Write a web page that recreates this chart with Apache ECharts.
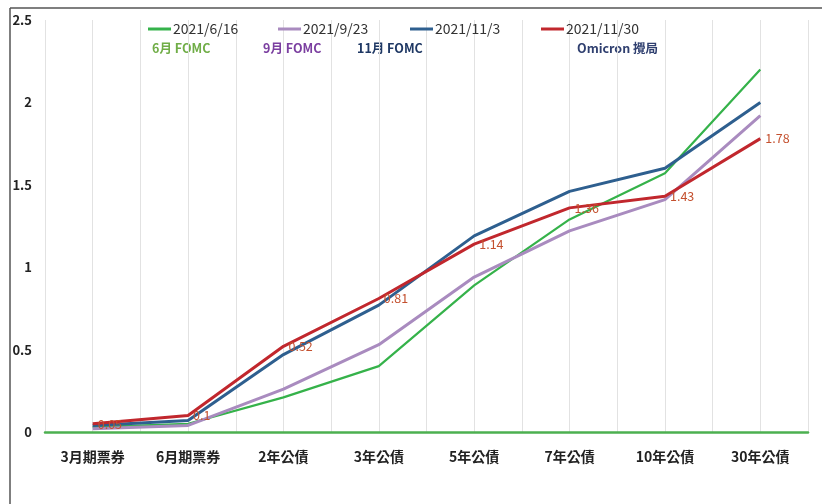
<!DOCTYPE html>
<html><head><meta charset="utf-8">
<script src="https://cdn.jsdelivr.net/npm/echarts@6/dist/echarts.min.js"></script>
<style>html,body{margin:0;padding:0;background:#fff}#c{width:824px;height:504px}</style>
</head><body><div id="c"></div>
<script>
const categories = ['3月期票券','6月期票券','2年公債','3年公債','5年公債','7年公債','10年公債','30年公債'];
const s0616 = [0.03, 0.05, 0.21, 0.40, 0.89, 1.29, 1.57, 2.20];
const s0923 = [0.02, 0.04, 0.26, 0.53, 0.94, 1.22, 1.41, 1.92];
const s1103 = [0.04, 0.07, 0.47, 0.77, 1.19, 1.46, 1.60, 2.00];
const s1130 = [0.05, 0.10, 0.52, 0.81, 1.14, 1.36, 1.43, 1.78];
const seriesNames = ['2021/6/16','2021/9/23','2021/11/3','2021/11/30'];
const yTicks = [0, 0.5, 1, 1.5, 2, 2.5];
const notes = ['6月 FOMC','9月 FOMC','11月 FOMC','Omicron 攪局'];

const FONT = '"Noto Sans CJK TC","Noto Sans",sans-serif';
const colors = ['#35b24a','#a98bbf','#2e5f8f','#c1272d'];
const widths = [2.2, 3, 3, 3];
const chart = echarts.init(document.getElementById('c'));
const datas = [s0616, s0923, s1103, s1130];
const legendLeft = [143, 273, 405, 536];
const noteLeft = [152, 263, 357, 577];
const noteColors = ['#70ad47','#7b3fa0','#1f3864','#2f3f6f'];

chart.setOption({
  animation: false,
  textStyle: {fontFamily: FONT},
  grid: {left: 45, right: 16, top: 20, bottom: 72},
  legend: seriesNames.map((n, i) => ({
    data: [n], left: legendLeft[i], top: 17, icon: 'rect', itemWidth: 23, itemHeight: 3,
    itemGap: 2, textStyle: {fontSize: 14, color: '#333', fontFamily: FONT, padding: [0,0,0,-3]}
  })),
  graphic: [
    {type: 'line', shape: {x1: 10, y1: 8, x2: 822, y2: 8}, style: {stroke: '#555', lineWidth: 1.5}, silent: true},
    {type: 'line', shape: {x1: 10, y1: 8, x2: 10, y2: 504}, style: {stroke: '#555', lineWidth: 1.5}, silent: true}
  ].concat(notes.map((t, i) => ({
    type: 'text', left: noteLeft[i], top: 42,
    style: {text: t, fill: noteColors[i], font: 'bold 12.5px ' + FONT}
  }))),
  xAxis: [
    {type: 'category', data: categories, boundaryGap: true,
     axisLine: {show: true, lineStyle: {color: '#4cb050', width: 2.5}},
     axisTick: {show: false},
     axisLabel: {fontSize: 14, fontWeight: 'bold', color: '#222', margin: 18, interval: 0},
     splitLine: {show: false}},
    {type: 'value', min: 0, max: 16, interval: 1, show: true, position: 'bottom',
     axisLine: {show: false}, axisTick: {show: false}, axisLabel: {show: false},
     splitLine: {show: true, lineStyle: {color: '#e2e2e2', width: 1}}}
  ],
  yAxis: {type: 'value', min: 0, max: 2.5, interval: 0.5,
    axisLine: {show: false}, axisTick: {show: false},
    splitLine: {show: false},
    axisLabel: {fontSize: 13, fontWeight: 'bold', color: '#222', margin: 13,
      formatter: v => yTicks.includes(v) ? String(v) : ''}},
  series: datas.map((d, i) => ({
    name: seriesNames[i], type: 'line', data: d, xAxisIndex: 0,
    symbol: 'circle', symbolSize: 0.1, showSymbol: true, z: 3 + i,
    lineStyle: {color: colors[i], width: widths[i]},
    itemStyle: {color: colors[i]},
    labelLayout: {hideOverlap: false},
    label: i === 3 ? {show: true, position: 'right', offset: [3, 6], color: '#c4502e', fontSize: 12.5, fontFamily: FONT} : {show: false}
  }))
});
</script></body></html>
